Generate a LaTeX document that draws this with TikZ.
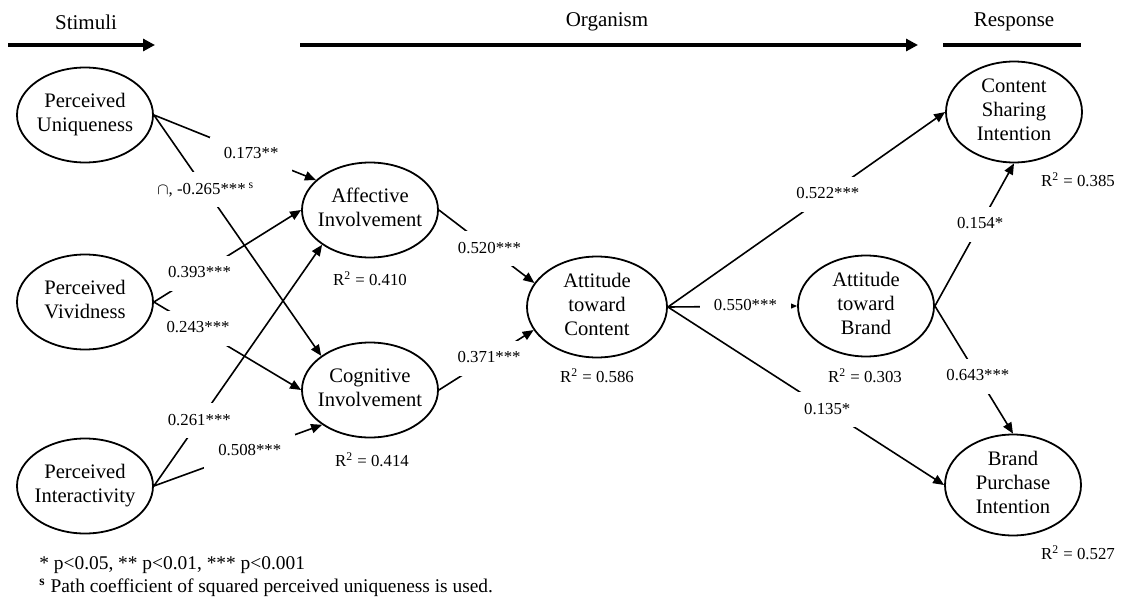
\documentclass[tikz,border=0pt]{standalone}
\usepackage{fontspec}
\setmainfont{Liberation Serif}
\usetikzlibrary{shapes.geometric,arrows.meta}
\newcommand\twolines[2]{\makebox[0pt]{\begin{tabular}{@{}c@{}}#1\\#2\end{tabular}}}
\newcommand\threelines[3]{\makebox[0pt]{\begin{tabular}{@{}c@{}}#1\\#2\\#3\end{tabular}}}
\begin{document}
\begin{tikzpicture}[x=0.5pt,y=-0.5pt,
  ell/.style={draw, ellipse, line width=0.9pt, minimum width=68pt, minimum height=47.5pt, inner sep=0pt, font=\fontsize{10.3}{11.9}\selectfont},
  lnk/.style={draw, line width=0.8pt, -{Triangle[length=5.5pt,width=4.6pt]}},
  lab/.style={fill=white, inner xsep=7pt, inner ysep=5pt, text height=6pt, text depth=1.5pt, font=\fontsize{8.4}{10}\selectfont},
  rsq/.style={font=\fontsize{8.4}{10}\selectfont, inner sep=0pt},
  head/.style={font=\fontsize{10.5}{12}\selectfont, inner sep=0pt},
  bar/.style={line width=1.8pt},
  foot/.style={font=\fontsize{9.7}{11}\selectfont, inner sep=0pt, anchor=west}
]
\useasboundingbox (0,0) rectangle (1124,599);

% headers
\node[head] (stim) at (86,22) {Stimuli};
\node[head] (org) at (607,22) {Organism};
\node[head] (resp) at (1014,22) {Response};
\coordinate (s1) at (8,45); \coordinate (s2) at (155,45);
\coordinate (o1) at (300,45); \coordinate (o2) at (918,45);
\coordinate (r1) at (943,45); \coordinate (r2) at (1081,45);
\draw[bar, -{Triangle[length=6pt,width=6pt]}] (s1) -- (s2);
\draw[bar, -{Triangle[length=6pt,width=6pt]}] (o1) -- (o2);
\draw[bar] (r1) -- (r2);

% constructs
\node[ell] (pu) at (85,115) {\twolines{Perceived}{Uniqueness}};
\node[ell] (pv) at (85,302) {\twolines{Perceived}{Vividness}};
\node[ell] (pi) at (85,486) {\twolines{Perceived}{Interactivity}};
\node[ell] (aff) at (370,210) {\twolines{Affective}{Involvement}};
\node[ell] (cog) at (370,390) {\twolines{Cognitive}{Involvement}};
\node[ell, minimum width=70pt, minimum height=48pt] (atc) at (597,307) {\threelines{Attitude}{toward}{Content}};
\node[ell] (atb) at (866,306) {\threelines{Attitude}{toward}{Brand}};
\node[ell] (csi) at (1014,112) {\threelines{Content}{Sharing}{Intention}};
\node[ell] (bpi) at (1013,485) {\threelines{Brand}{Purchase}{Intention}};

% paths
\draw[lnk] (pu.east) -- node[lab,pos=0.6]{0.173**} (aff.151);
\draw[lnk] (pu.east) -- node[lab,pos=0.31]{$\cap$, -0.265***\,\textsuperscript{s}} (cog.145);
\draw[lnk] (pv.east) -- node[lab,pos=0.31]{0.393***} (aff.west);
\draw[lnk] (pv.east) -- node[lab,pos=0.3]{0.243***} (cog.west);
\draw[lnk] (pi.east) -- node[lab,pos=0.27]{0.261***} (aff.216);
\draw[lnk] (pi.east) -- node[lab,pos=0.57]{0.508***} (cog.216);
\draw[lnk] (aff.east) -- node[lab,pos=0.53]{0.520***} (atc.159);
\draw[lnk] (cog.east) -- node[lab,pos=0.53]{0.371***} (atc.200);
\draw[lnk] (atc.east) -- node[lab,pos=0.577]{0.522***} (csi.west);
\draw[lnk] (atc.east) -- node[lab,pos=0.6]{0.550***} (atb.west);
\draw[lnk] (atc.east) -- node[lab,pos=0.577]{0.135*} (bpi.west);
\draw[lnk] (atb.east) -- node[lab,pos=0.572]{0.154*} (csi.south);
\draw[lnk] (atb.east) -- node[lab,pos=0.55]{0.643***} (bpi.north);

% R squared
\node[rsq] (raff) at (370,279) {R\textsuperscript{2} = 0.410};
\node[rsq] (rcog) at (372,460) {R\textsuperscript{2} = 0.414};
\node[rsq] (ratc) at (597,376) {R\textsuperscript{2} = 0.586};
\node[rsq] (ratb) at (865,376) {R\textsuperscript{2} = 0.303};
\node[rsq] (rcsi) at (1078,180) {R\textsuperscript{2} = 0.385};
\node[rsq] (rbpi) at (1078,553) {R\textsuperscript{2} = 0.527};

% footnotes
\node[foot] (f1) at (39,565) {* p<0.05, ** p<0.01, *** p<0.001};
\node[foot] (f2) at (39,588) {\textsuperscript{\textbf{s}} Path coefficient of squared perceived uniqueness is used.};
\end{tikzpicture}
\end{document}
